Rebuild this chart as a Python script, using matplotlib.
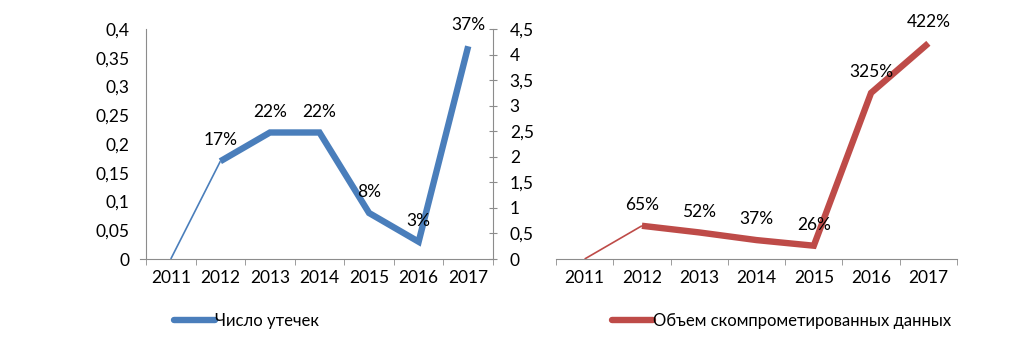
import matplotlib
matplotlib.use("Agg")
import matplotlib.pyplot as plt
from matplotlib.ticker import FuncFormatter, MultipleLocator

# data
years = ["2011", "2012", "2013", "2014", "2015", "2016", "2017"]
leaks = [0, 0.17, 0.22, 0.22, 0.08, 0.03, 0.37]
leak_labels = ["", "17%", "22%", "22%", "8%", "3%", "37%"]
volume = [0, 0.65, 0.52, 0.37, 0.26, 3.25, 4.22]
volume_labels = ["", "65%", "52%", "37%", "26%", "325%", "422%"]
legend_left = "Число утечек"
legend_right = "Объем скомпрометированных данных"

BLUE = "#4A7EBB"
RED = "#BE4B48"
GREY = "#8C8C8C"
W, H = 1024, 352

plt.rcParams["font.family"] = ["Lato", "DejaVu Sans"]
plt.rcParams["font.size"] = 12.5

comma = FuncFormatter(lambda v, _: f"{v:g}".replace(".", ","))


def px_box(x0, x1, y_top, y_bot):
    return [x0 / W, 1 - y_bot / H, (x1 - x0) / W, (y_bot - y_top) / H]


def draw_series(ax, values, labels, color):
    x = list(range(len(values)))
    ax.plot(x[:2], values[:2], color=color, lw=1.2, solid_capstyle="butt")
    ax.plot(x[1:], values[1:], color=color, lw=4.6,
            solid_joinstyle="miter", solid_capstyle="butt")
    for xi, v, t in zip(x, values, labels):
        if t:
            ax.annotate(t, (xi, v), xytext=(0, 15), textcoords="offset points",
                        ha="center", va="center", fontsize=12.5)
    ax.set_xlim(-0.5, len(values) - 0.5)
    ax.set_xticks(x, years)
    ax.set_xticks([i - 0.5 for i in range(len(values) + 1)], minor=True)
    ax.tick_params(axis="x", which="major", length=0, pad=8)
    ax.tick_params(axis="x", which="minor", length=4, color=GREY, direction="out")
    ax.spines["top"].set_visible(False)
    ax.spines["right"].set_visible(False)
    ax.spines["bottom"].set_color(GREY)
    ax.spines["left"].set_color(GREY)
    ax.yaxis.set_major_formatter(comma)


fig = plt.figure(figsize=(W / 100, H / 100), dpi=100)

ax1 = fig.add_axes(px_box(146, 493, 29, 259))
draw_series(ax1, leaks, leak_labels, BLUE)
ax1.set_ylim(0, 0.4)
ax1.yaxis.set_major_locator(MultipleLocator(0.05))
ax1.tick_params(axis="y", length=0, pad=12)
# the category axis pokes a little past the value axis, as in the original
ax1.spines["bottom"].set_bounds(-0.62, 6.5)

ax2 = fig.add_axes(px_box(556, 957, 29, 259))
draw_series(ax2, volume, volume_labels, RED)
ax2.set_ylim(0, 4.5)
ax2.yaxis.set_major_locator(MultipleLocator(0.5))
ax2.spines["left"].set_position(("outward", 63 * 0.72))
ax2.tick_params(axis="y", direction="inout", length=5.8, color=GREY, pad=-15)
for lab in ax2.get_yticklabels():
    lab.set_horizontalalignment("left")

# legends under each panel
h1, = ax1.plot([], [], color=BLUE, lw=4.6, solid_capstyle="round")
h2, = ax2.plot([], [], color=RED, lw=4.6, solid_capstyle="round")
for handle, text, x0 in [(h1, legend_left, 174), (h2, legend_right, 612)]:
    fig.legend([handle], [text], loc="center left", frameon=False,
               bbox_to_anchor=(x0 / W, 1 - 321 / H), handlelength=2.45,
               handletextpad=0.0, fontsize=12, borderaxespad=0, borderpad=0)

fig.savefig("out.png", dpi=100, facecolor="white")
